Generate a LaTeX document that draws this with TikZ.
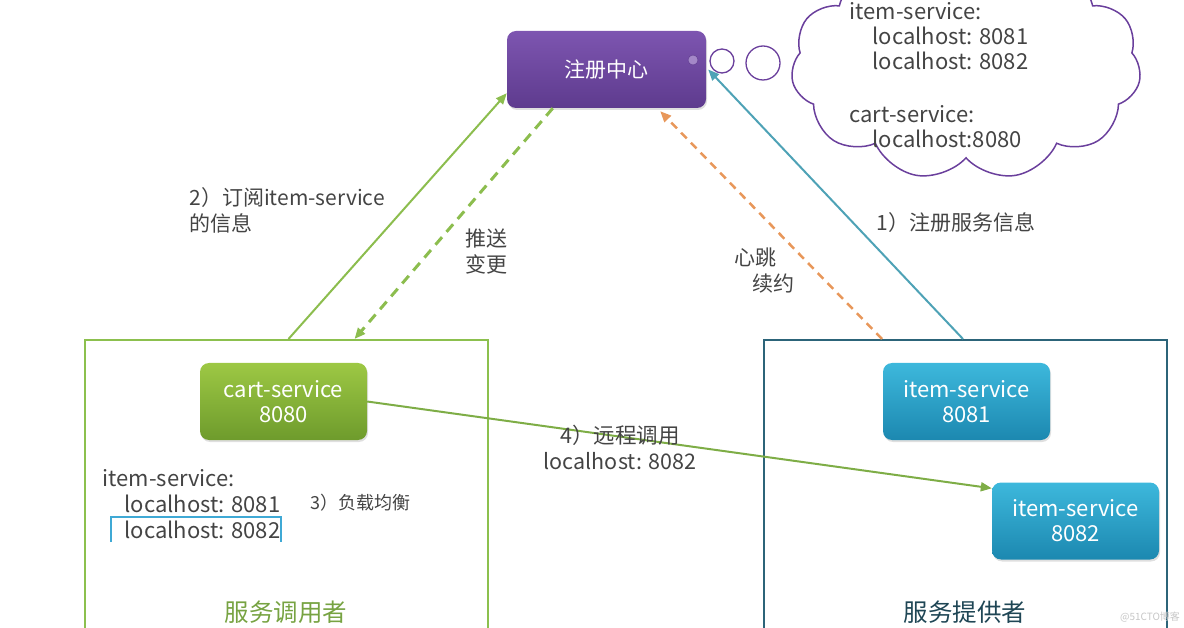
\documentclass[tikz,border=0pt]{standalone}
\usepackage{fontspec}
\setmainfont{Noto Sans CJK SC}
\usetikzlibrary{arrows.meta, positioning, shapes.symbols, shadows}
\definecolor{regtop}{HTML}{7D55B0}
\definecolor{regbot}{HTML}{5E3B8E}
\definecolor{carttop}{HTML}{9DC844}
\definecolor{cartbot}{HTML}{6E9B2C}
\definecolor{itemtop}{HTML}{3DB8DC}
\definecolor{itembot}{HTML}{1C88B0}
\definecolor{bubble}{HTML}{6A3F9C}
\definecolor{subgreen}{HTML}{8CBD4E}
\definecolor{hbtorange}{HTML}{E8975A}
\definecolor{regteal}{HTML}{4EA2B6}
\definecolor{callerline}{HTML}{8CC04E}
\definecolor{providerline}{HTML}{2C6479}
\definecolor{txtgray}{HTML}{444444}
\definecolor{pickblue}{HTML}{3FA9D5}

\begin{document}
\begin{tikzpicture}[x=1pt,y=-1pt,>={Triangle[length=11pt,width=9pt]},
    svc/.style={rounded corners=9pt,minimum width=167pt,minimum height=77pt,
      align=center,text=white,font=\fontsize{22}{25}\selectfont,
      drop shadow={opacity=0.25,shadow xshift=1pt,shadow yshift=-2pt}},
    zone/.style={draw,line width=2pt,minimum width=403pt,minimum height=310pt},
    lbl/.style={text=txtgray,font=\fontsize{21}{26}\selectfont,align=left},
    hostlist/.style={text=txtgray,font=\fontsize{22}{25}\selectfont,align=left}]
    \useasboundingbox (0,0) rectangle (1184,628);

    % service zones
    \node[zone,draw=callerline] (caller) at (286.5,495) {};
    \node[zone,draw=providerline] (provider) at (965,495) {};

    % registry + thought bubbles
    \node[svc,top color=regtop,bottom color=regbot,minimum width=199pt,
      font=\fontsize{21}{25}\selectfont] (reg) at (606.5,69.5) {注册中心};
    \node[circle,draw=regbot,fill=regtop!70!white,inner sep=0pt,minimum size=10pt] (regdot) at (693,60) {};
    \node[circle,draw=bubble,line width=1.3pt,inner sep=0pt,minimum size=24pt] (b1) at (722,61) {};
    \node[circle,draw=bubble,line width=1.3pt,inner sep=0pt,minimum size=34pt] (b2) at (763,63) {};
    \node[cloud,draw=bubble,line width=1.5pt,cloud puffs=11,cloud puff arc=115,
      cloud ignores aspect,minimum width=350pt,minimum height=228pt] (registry) at (966,66) {};
    \node[hostlist,anchor=west] (regtable) at (846,75)
      {item-service:\\\hspace*{23pt}localhost: 8081\\\hspace*{23pt}localhost: 8082\\[28pt]
       cart-service:\\\hspace*{23pt}localhost:8080};

    % services
    \node[svc,top color=carttop,bottom color=cartbot] (cart) at (283.5,401.5) {cart-service\\8080};
    \node[svc,top color=itemtop,bottom color=itembot] (item1) at (966.5,401.5) {item-service\\8081};
    \node[svc,top color=itemtop,bottom color=itembot] (item2) at (1075.5,521) {item-service\\8082};

    % local copy of the registry
    \node[hostlist,anchor=west,font=\fontsize{22}{26}\selectfont] (localtable) at (99,504)
      {item-service:\\\hspace*{22pt}localhost: 8081\\\hspace*{22pt}localhost: 8082};
    \draw[pickblue,line width=1.5pt] (111,542) -- (111,517) -- (281,517) -- (281,542);

    % connectors
    \draw[->,subgreen,line width=2pt] ([xshift=2pt]caller.north) -- ([yshift=15pt]reg.south west);
    \draw[->,subgreen,line width=3pt,dash pattern=on 10pt off 7pt] ([xshift=46pt]reg.south west) -- ([xshift=68pt]caller.north);
    \draw[->,hbtorange,line width=2.5pt,dash pattern=on 8pt off 6pt] ([xshift=-83pt]provider.north) -- ([xshift=-46pt,yshift=-3pt]reg.south east);
    \draw[->,regteal,line width=2pt] ([xshift=-2pt]provider.north) -- ([xshift=2pt]reg.east);
    \draw[->,callerline!90!black,line width=2pt] (cart.east) -- ([yshift=-6pt]item2.north west);

    % labels
    \node[lbl,anchor=west] (sublbl) at (186,210) {2）订阅item-service\\的信息};
    \node[lbl,anchor=west] (pushlbl) at (462,252) {推送\\变更};
    \node[lbl,anchor=west] (hbtlbl) at (731,271) {心跳\\\hspace*{18pt}续约};
    \node[lbl,anchor=west] (reglbl) at (873,223) {1）注册服务信息};
    \node[lbl,anchor=west,font=\fontsize{18}{22}\selectfont] (lblb) at (307,503) {3）负载均衡};
    \node[lbl,align=center,font=\fontsize{21.5}{26}\selectfont] (calllbl) at (620,447) {4）远程调用\\localhost: 8082};
    \node[text=callerline!85!black,font=\fontsize{24.5}{28}\selectfont] (callername) at (286,612) {服务调用者};
    \node[text=providerline!70!black,font=\fontsize{24.5}{28}\selectfont] (providername) at (965,612) {服务提供者};
    \node[text=gray!45,font=\fontsize{10}{11}\selectfont] (mark) at (1150,617) {@51CTO博客};
  \end{tikzpicture}
\end{document}
